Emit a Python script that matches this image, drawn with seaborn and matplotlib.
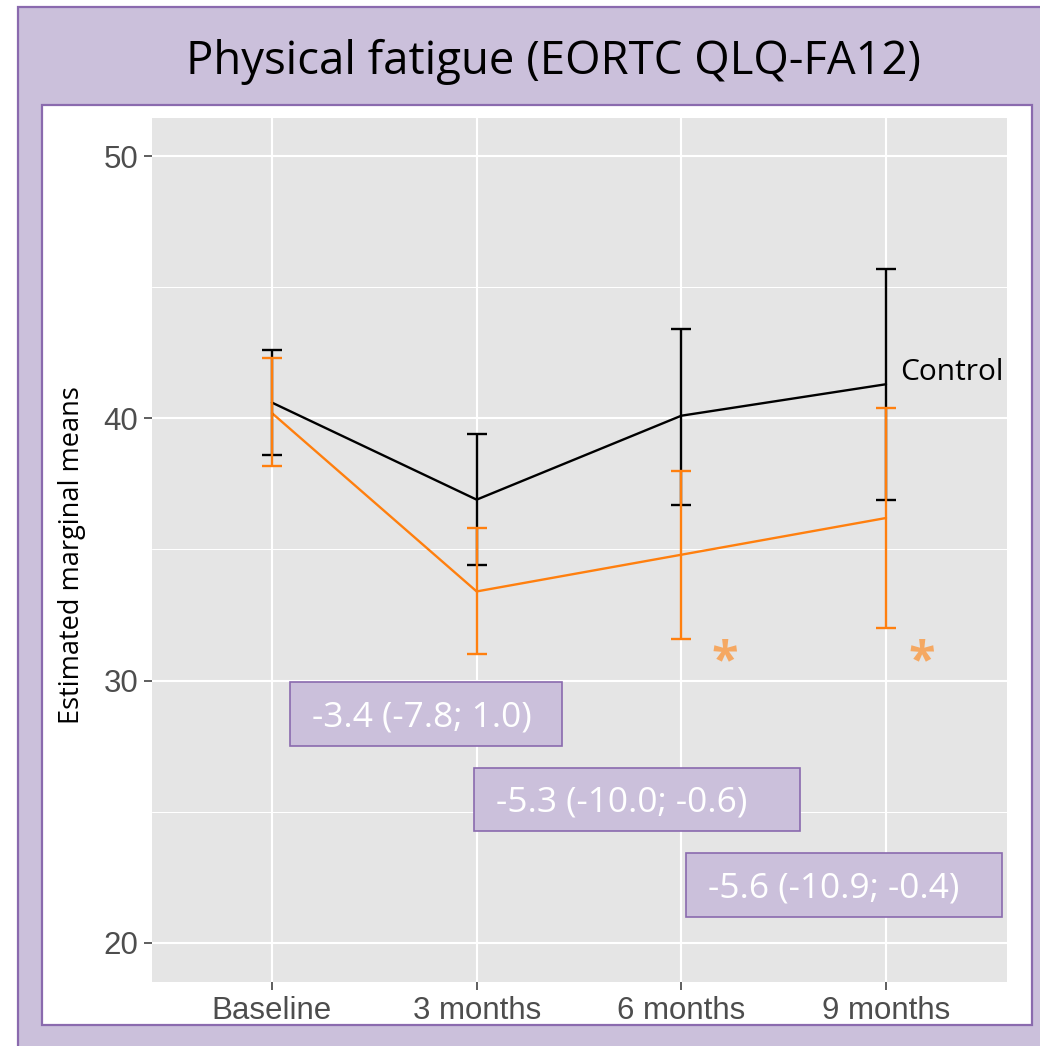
import matplotlib
matplotlib.use("Agg")
import matplotlib.pyplot as plt
from matplotlib.patches import Rectangle
from matplotlib.ticker import FixedLocator
import numpy as np
import pandas as pd
import seaborn as sns

# ---- data -------------------------------------------------------------
timepoints = ["Baseline", "3 months", "6 months", "9 months"]

control_mean = [40.6, 36.9, 40.1, 41.3]
control_low = [38.6, 34.4, 36.7, 36.9]
control_high = [42.6, 39.4, 43.4, 45.7]

interv_mean = [40.2, 33.4, 34.8, 36.2]
interv_low = [38.2, 31.0, 31.6, 32.0]
interv_high = [42.3, 35.8, 38.0, 40.4]

diff_labels = ["-3.4 (-7.8; 1.0)", "-5.3 (-10.0; -0.6)", "-5.6 (-10.9; -0.4)"]
signif_marks = ["", "", "*", "*"]

# ---- styling ----------------------------------------------------------
bg_purple = "#CBC0DB"
edge_purple = "#8A6AAE"
orange = "#FF7F0E"
star_orange = "#F5A862"
panel_grey = "#E5E5E5"

sns.set_style("darkgrid", {"axes.facecolor": panel_grey, "grid.color": "white"})
plt.rcParams["font.family"] = ["Open Sans", "DejaVu Sans"]

fig = plt.figure(figsize=(10.4, 10.46), dpi=100, facecolor="white")
W, H = 1040, 1046


def fx(px):
    return px / W


def fy(py):
    return 1 - py / H


# outer lilac frame and inner white panel
fig.patches.append(Rectangle((fx(18), fy(1060)), 1.2, fy(7) - fy(1060),
                             transform=fig.transFigure, facecolor=bg_purple,
                             edgecolor=edge_purple, linewidth=1.6, zorder=-2))
fig.patches.append(Rectangle((fx(42), fy(1025)), fx(1032) - fx(42), fy(105) - fy(1025),
                             transform=fig.transFigure, facecolor="white",
                             edgecolor=edge_purple, linewidth=1.6, zorder=-1))

fig.text(fx(553), fy(62), "Physical fatigue (EORTC QLQ-FA12)", ha="center", va="center",
         fontsize=32.8, color="black")

ax = fig.add_axes([fx(152), fy(982), fx(1007) - fx(152), fy(118) - fy(982)])
ax.set_zorder(2)
ax.set_facecolor(panel_grey)

pos = np.arange(len(timepoints))
df = pd.DataFrame({
    "pos": np.concatenate([pos, pos]),
    "mean": control_mean + interv_mean,
    "group": ["Control"] * len(pos) + ["Intervention"] * len(pos),
})
palette = {"Control": "black", "Intervention": orange}

sns.lineplot(data=df, x="pos", y="mean", hue="group", palette=palette, sort=False,
             linewidth=1.7, legend=False, ax=ax, zorder=3)

for mean, lo, hi, col in [(control_mean, control_low, control_high, "black"),
                          (interv_mean, interv_low, interv_high, orange)]:
    mean = np.array(mean)
    ax.errorbar(pos, mean, yerr=[mean - np.array(lo), np.array(hi) - mean], fmt="none",
                ecolor=col, elinewidth=1.7, capsize=7.2, capthick=1.7, zorder=4)

# group label at the last time point
ax.text(3.068, 41.46, "Control", ha="left", va="baseline", fontsize=21.5, color="black", zorder=5)

# significance stars, set just to the right of each time point
star_offsets = [0.0, 0.0, 0.21, 0.175]
for x, off, s in zip(pos, star_offsets, signif_marks):
    if s:
        ax.text(x + off, 30.2, s, ha="center", va="baseline", fontsize=35,
                fontweight="bold", color=star_orange, zorder=5)

# between-group difference boxes: (left, right, bottom, top) in data units
box_spans = [(0.088, 1.417, 27.51, 29.95),
             (0.987, 2.579, 24.27, 26.67),
             (2.022, 3.566, 20.99, 23.43)]
for (x0, x1, y0, y1), lab in zip(box_spans, diff_labels):
    ax.add_patch(Rectangle((x0, y0), x1 - x0, y1 - y0, facecolor=bg_purple,
                           edgecolor=edge_purple, linewidth=1.2, zorder=6))
    ax.text(x0 + 0.1075, (y0 + y1) / 2 - 0.477, lab, ha="left", va="baseline",
            fontsize=25.4, color="white", zorder=7)

ax.set_xlim(-0.586, 3.591)
ax.set_ylim(18.51, 51.45)
ax.set_xticks(pos)
ax.set_xticklabels(timepoints)
ax.set_yticks([20, 30, 40, 50])
ax.yaxis.set_minor_locator(FixedLocator([25, 35, 45]))
ax.grid(which="major", color="white", linewidth=1.5)
ax.grid(which="minor", axis="y", color="white", linewidth=0.75)
ax.tick_params(which="minor", length=0, bottom=False, left=False)
ax.tick_params(which="major", bottom=True, left=True, direction="out", length=6, width=1.1,
               color="#333333", pad=4, labelsize=22.5, labelcolor="#4D4D4D")
for lab in ax.get_xticklabels() + ax.get_yticklabels():
    lab.set_family("Liberation Sans")
for sp in ax.spines.values():
    sp.set_visible(False)
ax.set_xlabel("")
ax.set_ylabel("")
fig.text(fx(72), fy(555), "Estimated marginal means", rotation=90, ha="center", va="center",
         fontsize=19.5, color="black")

fig.savefig("out.png", dpi=100, facecolor="white")
